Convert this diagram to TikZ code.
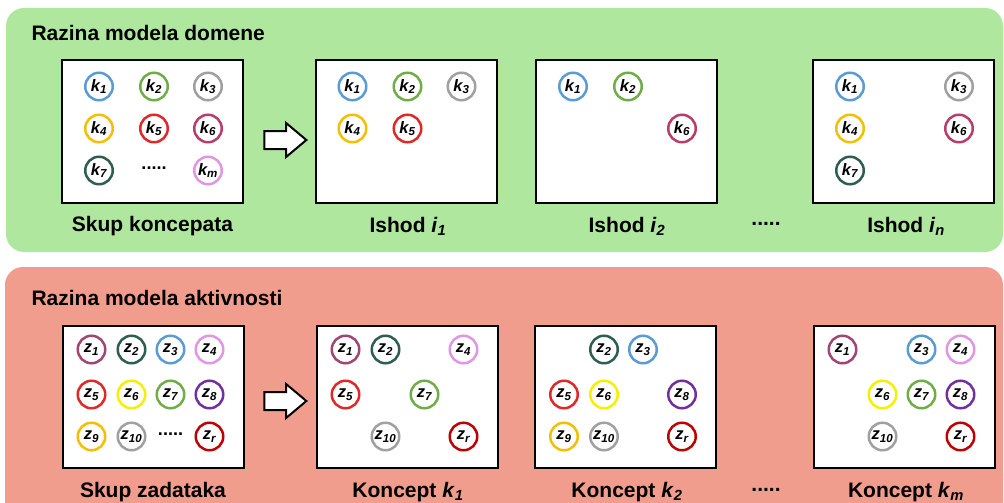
\documentclass[tikz,border=0pt]{standalone}
\usepackage{fontspec}
\setmainfont{Liberation Sans}
\usetikzlibrary{shapes.arrows,calc}
\definecolor{panelgreen}{RGB}{176,231,159}
\definecolor{panelred}{RGB}{241,157,142}
\definecolor{cblue}{RGB}{91,155,213}
\definecolor{cgreen}{RGB}{112,173,71}
\definecolor{cgray}{RGB}{160,160,160}
\definecolor{cgold}{RGB}{245,190,0}
\definecolor{cred}{RGB}{225,40,40}
\definecolor{ccrimson}{RGB}{185,60,105}
\definecolor{cteal}{RGB}{46,94,80}
\definecolor{cviolet}{RGB}{225,150,225}
\definecolor{cplum}{RGB}{160,70,115}
\definecolor{cyellow}{RGB}{245,240,0}
\definecolor{cpurple}{RGB}{112,48,160}
\definecolor{cdark}{RGB}{190,0,0}
\tikzset{
  panel/.style={fill=#1,draw=none,rounded corners=18pt},
  frame/.style={draw=black,line width=2pt,fill=white,minimum width=181pt,minimum height=142pt,inner sep=0pt},
  item/.style={circle,draw=#1,line width=2.5pt,fill=white,minimum size=27.5pt,inner sep=0pt,
    font=\bfseries\itshape\fontsize{16.5}{16.5}\selectfont},
  dots/.style={font=\bfseries\fontsize{18}{18}\selectfont},
  leveltitle/.style={anchor=west,font=\bfseries\fontsize{21}{24}\selectfont},
  caption/.style={font=\bfseries\fontsize{21}{24}\selectfont},
  nextarrow/.style={single arrow,draw=black,line width=2pt,fill=white,inner xsep=0pt,inner ysep=8pt,
    minimum width=32pt,minimum height=42pt,single arrow head extend=8pt,single arrow tip angle=80}
}
\begin{document}
\begin{tikzpicture}[x=1pt,y=-1pt]
\useasboundingbox (0,0) rectangle (1004,503);
\clip (0,0) rectangle (1004,503);
%panels
\fill[panel=panelgreen] (6,8) rectangle (1003,252);
\fill[panel=panelred] (5,267) rectangle (1003,520);
\node[leveltitle] (tdom) at (28,33) {Razina modela domene};
\node[leveltitle] (takt) at (28,298) {Razina modela aktivnosti};
%domain level
\node[frame] (d0) at (152.5,131.5) {};
\node[frame] (d1) at (406,131.5) {};
\node[frame] (d2) at (626.5,131.5) {};
\node[frame] (dn) at (903.5,131.5) {};
\node[nextarrow] (darr) at (280,140) {};
\begin{scope}[shift={(d0.north west)}]
\foreach \n/\c/\px/\py in {1/cblue/38/27,2/cgreen/93/27,3/cgray/147/27,4/cgold/38/69,5/cred/93/69,6/ccrimson/147/69,7/cteal/38/111,m/cviolet/147/111}
  \node[item=\c] (d0k\n) at (\px,\py) {k\textsubscript{\n}};
\node[dots] (d0dots) at (93,109) {.....};
\end{scope}
\begin{scope}[shift={(d1.north west)}]
\foreach \n/\c/\px/\py in {1/cblue/38/27,2/cgreen/93/27,3/cgray/147/27,4/cgold/38/69,5/cred/93/69}
  \node[item=\c] (d1k\n) at (\px,\py) {k\textsubscript{\n}};
\end{scope}
\begin{scope}[shift={(d2.north west)}]
\foreach \n/\c/\px/\py in {1/cblue/38/27,2/cgreen/93/27,6/ccrimson/147/69}
  \node[item=\c] (d2k\n) at (\px,\py) {k\textsubscript{\n}};
\end{scope}
\begin{scope}[shift={(dn.north west)}]
\foreach \n/\c/\px/\py in {1/cblue/38/27,3/cgray/147/27,4/cgold/38/69,6/ccrimson/147/69,7/cteal/38/111}
  \node[item=\c] (dnk\n) at (\px,\py) {k\textsubscript{\n}};
\end{scope}
\node[caption] (cd0) at (152.5,226) {Skup koncepata};
\node[caption] (cd1) at (408,226) {Ishod \textit{i}\textsubscript{\textit{1}}};
\node[caption] (cd2) at (627,226) {Ishod \textit{i}\textsubscript{\textit{2}}};
\node[caption] (cddots) at (766,224) {.....};
\node[caption] (cdn) at (906,226) {Ishod \textit{i}\textsubscript{\textit{n}}};
%activity level
\node[frame] (a0) at (153,396.5) {};
\node[frame] (a1) at (407,396.5) {};
\node[frame] (a2) at (625.5,396.5) {};
\node[frame] (am) at (904,396.5) {};
\node[nextarrow] (aarr) at (280,401) {};
\begin{scope}[shift={(a0.north west)}]
\foreach \n/\c/\px/\py in {1/cplum/30/25,2/cteal/70/25,3/cblue/109/25,4/cviolet/148/25,5/cred/30/70,6/cyellow/70/70,7/cgreen/109/70,8/cpurple/148/70,9/cgold/30/112,10/cgray/70/112,r/cdark/148/112}
  \node[item=\c] (a0z\n) at (\px,\py) {z\textsubscript{\n}};
\node[dots] (a0dots) at (109,110) {.....};
\end{scope}
\begin{scope}[shift={(a1.north west)}]
\foreach \n/\c/\px/\py in {1/cplum/30/25,2/cteal/70/25,4/cviolet/148/25,5/cred/30/70,7/cgreen/109/70,10/cgray/70/112,r/cdark/148/112}
  \node[item=\c] (a1z\n) at (\px,\py) {z\textsubscript{\n}};
\end{scope}
\begin{scope}[shift={(a2.north west)}]
\foreach \n/\c/\px/\py in {2/cteal/70/25,3/cblue/109/25,5/cred/30/70,6/cyellow/70/70,8/cpurple/148/70,9/cgold/30/112,10/cgray/70/112,r/cdark/148/112}
  \node[item=\c] (a2z\n) at (\px,\py) {z\textsubscript{\n}};
\end{scope}
\begin{scope}[shift={(am.north west)}]
\foreach \n/\c/\px/\py in {1/cplum/30/25,3/cblue/109/25,4/cviolet/148/25,6/cyellow/70/70,7/cgreen/109/70,8/cpurple/148/70,10/cgray/70/112,r/cdark/148/112}
  \node[item=\c] (amz\n) at (\px,\py) {z\textsubscript{\n}};
\end{scope}
\node[caption] (ca0) at (153,492) {Skup zadataka};
\node[caption] (ca1) at (408,492) {Koncept \textit{k}\textsubscript{\textit{1}}};
\node[caption] (ca2) at (627,492) {Koncept \textit{k}\textsubscript{\textit{2}}};
\node[caption] (cadots) at (766,490) {.....};
\node[caption] (cam) at (906,492) {Koncept \textit{k}\textsubscript{\textit{m}}};
\end{tikzpicture}
\end{document}
